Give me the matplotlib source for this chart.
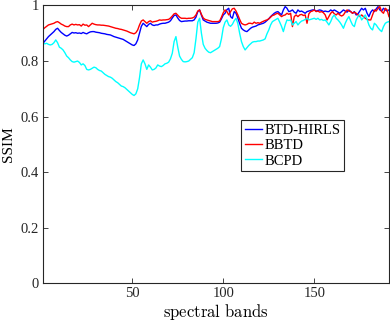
import numpy as np
import matplotlib
matplotlib.use("Agg")
import matplotlib.pyplot as plt

btd_hirls = [
0.864,0.872,0.880,0.888,0.894,0.900,0.906,0.914,0.918,0.910,
0.903,0.898,0.893,0.890,0.893,0.898,0.903,0.901,0.902,0.900,
0.901,0.899,0.903,0.900,0.898,0.902,0.905,0.906,0.906,0.904,
0.903,0.902,0.900,0.899,0.898,0.896,0.895,0.894,0.891,0.888,
0.886,0.884,0.882,0.880,0.878,0.874,0.870,0.866,0.862,0.858,
0.856,0.862,0.876,0.900,0.925,0.936,0.930,0.924,0.932,0.936,
0.930,0.928,0.930,0.930,0.933,0.935,0.936,0.936,0.938,0.940,
0.945,0.955,0.964,0.966,0.955,0.946,0.942,0.943,0.944,0.944,
0.945,0.945,0.945,0.948,0.958,0.978,0.984,0.965,0.948,0.944,
0.940,0.938,0.936,0.936,0.936,0.936,0.937,0.940,0.952,0.966,
0.972,0.985,0.990,0.960,0.954,0.978,0.972,0.955,0.935,0.918,
0.912,0.908,0.906,0.912,0.918,0.922,0.924,0.926,0.930,0.932,
0.934,0.936,0.940,0.946,0.952,0.960,0.966,0.972,0.976,0.978,
0.972,0.966,0.984,0.996,0.990,0.978,0.980,0.984,0.976,0.972,
0.984,0.978,0.980,0.976,0.972,0.978,0.980,0.982,0.984,0.984,
0.980,0.982,0.984,0.982,0.978,0.980,0.978,0.978,0.984,0.980,
0.984,0.980,0.976,0.972,0.978,0.984,0.980,0.976,0.984,0.978,
0.972,0.978,0.966,0.970,0.980,0.990,0.984,0.990,0.972,0.960,
0.976,0.984,0.978,0.988,0.996,0.984,0.980,0.990,0.984,0.980,
0.984]

bbtd = [
0.914,0.920,0.925,0.930,0.932,0.934,0.936,0.940,0.942,0.938,
0.933,0.930,0.926,0.924,0.924,0.930,0.933,0.930,0.932,0.930,
0.931,0.926,0.933,0.929,0.930,0.924,0.930,0.936,0.933,0.931,
0.930,0.930,0.929,0.929,0.928,0.927,0.926,0.924,0.922,0.920,
0.918,0.917,0.915,0.914,0.912,0.910,0.908,0.905,0.902,0.900,
0.898,0.902,0.912,0.930,0.944,0.948,0.942,0.936,0.942,0.945,
0.940,0.942,0.943,0.945,0.948,0.947,0.948,0.948,0.949,0.950,
0.955,0.962,0.970,0.972,0.965,0.958,0.954,0.954,0.954,0.953,
0.954,0.954,0.955,0.958,0.966,0.980,0.984,0.968,0.955,0.950,
0.948,0.946,0.944,0.942,0.942,0.942,0.942,0.944,0.958,0.974,
0.984,0.978,0.966,0.978,0.988,0.990,0.980,0.966,0.950,0.936,
0.932,0.930,0.932,0.936,0.936,0.934,0.940,0.936,0.938,0.936,
0.940,0.943,0.946,0.948,0.952,0.958,0.964,0.966,0.970,0.972,
0.966,0.960,0.964,0.966,0.972,0.968,0.972,0.924,0.960,0.966,
0.960,0.966,0.968,0.964,0.966,0.936,0.970,0.978,0.980,0.984,
0.978,0.980,0.976,0.978,0.974,0.966,0.948,0.960,0.972,0.978,
0.970,0.966,0.972,0.966,0.962,0.966,0.976,0.984,0.980,0.978,
0.972,0.976,0.972,0.966,0.960,0.966,0.960,0.954,0.950,0.948,
0.948,0.966,0.984,0.980,0.990,0.996,0.978,0.972,0.990,0.984,
0.960]

bcpd = [
0.864,0.862,0.864,0.860,0.858,0.860,0.866,0.876,0.866,0.850,
0.846,0.840,0.830,0.818,0.812,0.804,0.798,0.796,0.798,0.800,
0.795,0.786,0.790,0.784,0.770,0.768,0.770,0.774,0.778,0.776,
0.770,0.766,0.764,0.758,0.752,0.748,0.744,0.742,0.738,0.732,
0.726,0.722,0.716,0.710,0.708,0.704,0.698,0.692,0.686,0.680,
0.676,0.682,0.700,0.740,0.790,0.804,0.790,0.770,0.786,0.778,
0.768,0.770,0.775,0.786,0.782,0.780,0.784,0.790,0.792,0.796,
0.808,0.828,0.870,0.888,0.850,0.818,0.806,0.798,0.797,0.798,
0.800,0.806,0.812,0.830,0.880,0.940,0.954,0.900,0.860,0.846,
0.838,0.832,0.830,0.834,0.838,0.842,0.846,0.852,0.880,0.920,
0.940,0.948,0.930,0.925,0.932,0.945,0.954,0.935,0.900,0.870,
0.852,0.840,0.848,0.856,0.862,0.868,0.870,0.870,0.872,0.872,
0.874,0.876,0.880,0.898,0.912,0.930,0.942,0.946,0.950,0.954,
0.940,0.925,0.906,0.930,0.948,0.946,0.948,0.930,0.936,0.942,
0.930,0.938,0.944,0.946,0.950,0.954,0.948,0.950,0.952,0.954,
0.950,0.954,0.948,0.950,0.946,0.948,0.940,0.930,0.942,0.958,
0.966,0.954,0.948,0.940,0.930,0.918,0.936,0.950,0.960,0.944,
0.930,0.924,0.948,0.960,0.966,0.948,0.956,0.966,0.950,0.930,
0.918,0.912,0.936,0.930,0.920,0.912,0.906,0.924,0.936,0.940,
0.942]

bands = np.arange(1, len(btd_hirls) + 1)
series_names = ["BTD-HIRLS", "BBTD", "BCPD"]
colors = ["#0000ff", "#ff0000", "#00ffff"]
xticks = [50, 100, 150]
yticks = [0, 0.2, 0.4, 0.6, 0.8, 1]
ytick_labels = ["0", "0.2", "0.4", "0.6", "0.8", "1"]

plt.rcParams['font.family'] = ['Liberation Serif', 'DejaVu Serif']
plt.rcParams['mathtext.fontset'] = 'cm'

fig = plt.figure(figsize=(3.9, 3.23), dpi=100)
ax = fig.add_axes([0.1103, 0.123, 0.887, 0.860])

for vals, name, c in zip([btd_hirls, bbtd, bcpd], series_names, colors):
    ax.plot(bands, vals, color=c, lw=1.0, label=name)

ax.set_xlim(1, 191)
ax.set_ylim(0, 1)
ax.set_xticks(xticks)
ax.set_xticklabels([str(t) for t in xticks])
ax.set_yticks(yticks)
ax.set_yticklabels(ytick_labels)
ax.tick_params(direction='in', top=True, right=True, length=3.5, width=0.6,
               labelsize=10.5, colors='#262626', pad=3)
for s in ax.spines.values():
    s.set_linewidth(0.8)
    s.set_color('#262626')

ax.set_xlabel(r'$\mathrm{spectral\ bands}$', fontsize=12, labelpad=1)
ax.set_ylabel('SSIM', fontsize=11, labelpad=4)

leg = ax.legend(loc='upper left', bbox_to_anchor=(0.572, 0.588), fancybox=False,
                edgecolor='#262626', framealpha=1, fontsize=10.5,
                handlelength=1.2, handletextpad=0.15, labelspacing=0.15,
                borderpad=0.25, borderaxespad=0)
leg.get_frame().set_linewidth(0.8)

fig.savefig("out.png", dpi=100)
